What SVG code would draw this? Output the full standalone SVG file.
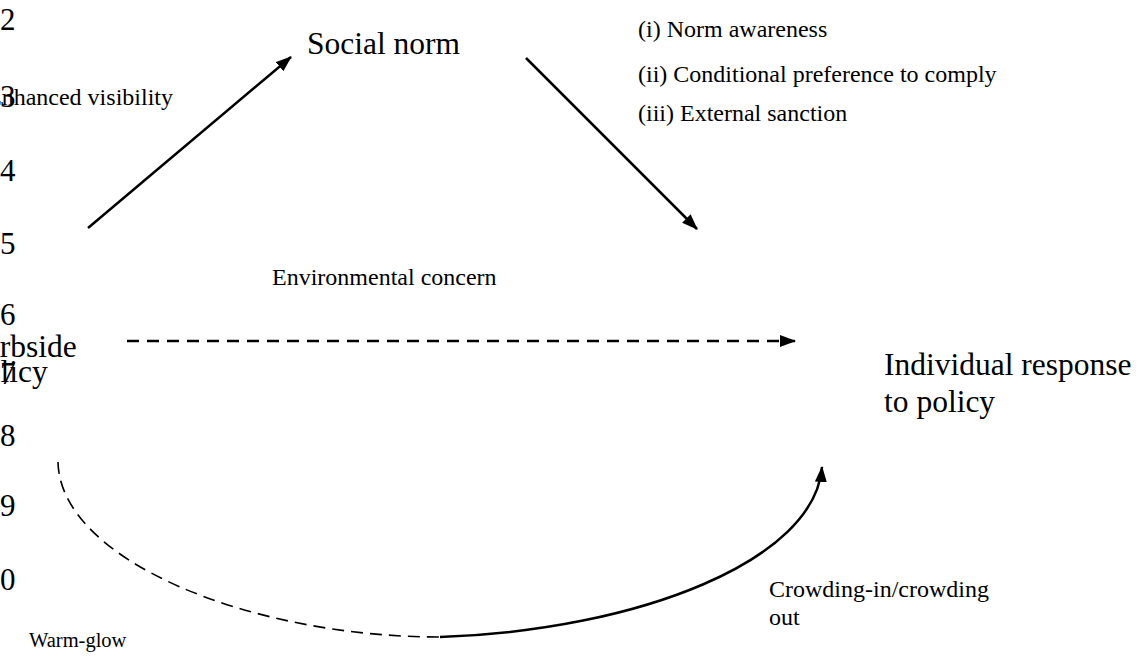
<svg xmlns="http://www.w3.org/2000/svg" width="1144" height="663" viewBox="0 0 1144 663">
<defs>
<style>
text{font-family:"Liberation Serif","Times New Roman",serif;fill:#000}
.big{font-size:31.5px}
.small{font-size:24px}
.ln{font-size:31px}
.conn{fill:none;stroke:#000}
</style>
<marker id="ah" viewBox="0 0 16 12" refX="15" refY="6" markerWidth="16" markerHeight="12" markerUnits="userSpaceOnUse" orient="auto">
<path d="M0,0 L16,6 L0,12 Z" fill="#000"/>
</marker>
</defs>
<rect width="1144" height="663" fill="#fff"/>
<g id="line-numbers">
<text class="ln" x="0" y="30">2</text>
<text class="ln" x="0" y="107">3</text>
<text class="ln" x="0" y="181">4</text>
<text class="ln" x="0" y="254">5</text>
<text class="ln" x="0" y="325">6</text>
<text class="ln" x="0" y="384">7</text>
<text class="ln" x="0" y="446">8</text>
<text class="ln" x="0" y="516">9</text>
<text class="ln" x="0" y="590">0</text>
</g>
<g id="node-curbside">
<text class="big" x="-37" y="357">Curbside</text>
<text class="big" x="-31" y="382">policy</text>
</g>
<g id="node-social-norm">
<text class="big" x="307" y="54">Social norm</text>
</g>
<g id="node-individual">
<text class="big" x="884" y="375">Individual response</text>
<text class="big" x="884" y="412">to policy</text>
</g>
<g id="labels">
<text class="small" x="-13" y="105">Enhanced visibility</text>
<text class="small" x="638" y="37">(i) Norm awareness</text>
<text class="small" x="638" y="82">(ii) Conditional preference to comply</text>
<text class="small" x="638" y="121">(iii) External sanction</text>
<text class="small" x="272" y="285">Environmental concern</text>
<text class="small" x="769" y="597">Crowding-in/crowding</text>
<text class="small" x="769" y="625">out</text>
<text class="small" x="29" y="647" style="font-size:20.5px">Warm-glow</text>
</g>
<g id="connectors">
<line class="conn" x1="88" y1="228" x2="291" y2="57" stroke-width="2.5" marker-end="url(#ah)"/>
<line class="conn" x1="526" y1="58" x2="697" y2="229" stroke-width="2.5" marker-end="url(#ah)"/>
<line class="conn" x1="127" y1="341" x2="795" y2="341" stroke-width="2.5" stroke-dasharray="12,8" marker-end="url(#ah)"/>
<path class="conn" d="M58,462 C60,560 250,637 440,637" stroke-width="1.6" stroke-dasharray="12,7"/>
<path class="conn" d="M440,637 C640,630 815,560 822,467" stroke-width="2.5" marker-end="url(#ah)"/>
</g>
</svg>
